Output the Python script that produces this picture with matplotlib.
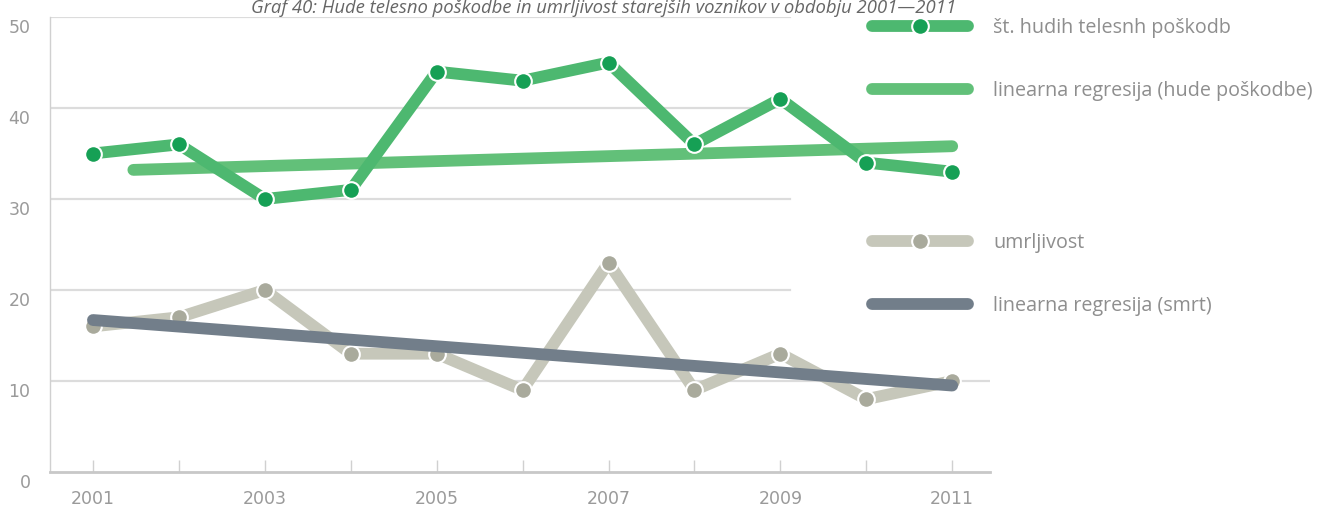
import numpy as np
import matplotlib
matplotlib.use('Agg')
import matplotlib.pyplot as plt
import matplotlib.transforms as mtransforms
from matplotlib.lines import Line2D

# data
years = [2001, 2002, 2003, 2004, 2005, 2006, 2007, 2008, 2009, 2010, 2011]
injuries = [35, 36, 30, 31, 44, 43, 45, 36, 41, 34, 33]
deaths = [16, 17, 20, 13, 13, 9, 23, 9, 13, 8, 10]
inj_reg_x = [2001.47, 2011]
inj_reg_y = [33.2, 35.8]
death_reg_x = [2001, 2011]
death_reg_y = [16.7, 9.5]

yticks = [0, 10, 20, 30, 40, 50]
xticks = [2001, 2003, 2005, 2007, 2009, 2011]

title = 'Graf 40: Hude telesno poškodbe in umrljivost starejših voznikov v obdobju 2001—2011'
labels = ['št. hudih telesnh poškodb', 'linearna regresija (hude poškodbe)',
          'umrljivost', 'linearna regresija (smrt)']

GREEN = '#4db870'
GREEN_DOT = '#16a055'
GREEN_REG = '#62c079'
GREY = '#c6c7ba'
GREY_DOT = '#a9aa9c'
DARK = '#727e8a'
TXT = '#8e8e8e'

plt.rcParams['font.family'] = ['Open Sans', 'DejaVu Sans']

fig = plt.figure(figsize=(13.33, 5.07), dpi=100)
ax = fig.add_axes([50 / 1333, 1 - 472 / 507, 940 / 1333, 455 / 507])
ax.set_xlim(2000.5, 2011.44)
ax.set_ylim(0, 50)

# gridlines (the upper ones are cut off by the legend area)
for v in [20, 30, 40, 50]:
    ax.axhline(v, xmin=0, xmax=0.787, color='#dcdcdc', lw=1.6, zorder=0)
ax.axhline(10, color='#dcdcdc', lw=1.6, zorder=0)

lw = 8.5
ax.plot(years, deaths, color=GREY, lw=lw, solid_capstyle='round', solid_joinstyle='round',
        marker='o', ms=12, mfc=GREY_DOT, mec='white', mew=1.5, zorder=2)
ax.plot(death_reg_x, death_reg_y, color=DARK, lw=lw, solid_capstyle='round', zorder=3)
ax.plot(inj_reg_x, inj_reg_y, color=GREEN_REG, lw=lw, solid_capstyle='round', zorder=4)
ax.plot(years, injuries, color=GREEN, lw=lw, solid_capstyle='round', solid_joinstyle='round',
        marker='o', ms=12, mfc=GREEN_DOT, mec='white', mew=1.5, zorder=5)

for s in ['top', 'right']:
    ax.spines[s].set_visible(False)
ax.spines['left'].set_color('#d0d0d0')
ax.spines['left'].set_linewidth(1.0)
ax.spines['bottom'].set_color('#c8c8c8')
ax.spines['bottom'].set_linewidth(2.0)

ax.set_yticks(yticks)
ax.set_xticks(years)
ax.set_xticklabels([str(y) if y in xticks else '' for y in years])
ax.tick_params(axis='x', direction='in', length=9, width=1, color='#d0d0d0',
               labelsize=12.5, labelcolor='#9a9a9a', pad=13)
ax.tick_params(axis='y', length=0, labelsize=12.5, labelcolor='#9a9a9a', pad=14)
for lab in ax.get_xticklabels() + ax.get_yticklabels():
    lab.set_family(['DejaVu Sans'])
# y labels sit a bit below their gridlines in the original
shift = mtransforms.ScaledTranslation(0, -9 / 100, fig.dpi_scale_trans)
for lab in ax.get_yticklabels():
    lab.set_transform(lab.get_transform() + shift)

fig.text(604 / 1333, 1 - 13 / 507, title, ha='center', va='baseline', style='italic',
         fontsize=13.3, color='#666666')

h1 = Line2D([], [], color=GREEN, lw=lw, solid_capstyle='round', marker='o', ms=12,
            mfc=GREEN_DOT, mec='white', mew=1.5)
h2 = Line2D([], [], color=GREEN_REG, lw=lw, solid_capstyle='round')
h3 = Line2D([], [], color=GREY, lw=lw, solid_capstyle='round', marker='o', ms=12,
            mfc=GREY_DOT, mec='white', mew=1.5)
h4 = Line2D([], [], color=DARK, lw=lw, solid_capstyle='round')

leg_kw = dict(frameon=False, loc='upper left', handlelength=4.85, handletextpad=1.3,
              labelspacing=2.2, fontsize=14.2, labelcolor=TXT, numpoints=1,
              borderaxespad=0, borderpad=0)
leg1 = fig.legend([h1, h2], labels[:2], bbox_to_anchor=(872 / 1333, 1 - 18 / 507), **leg_kw)
leg2 = fig.legend([h3, h4], labels[2:], bbox_to_anchor=(872 / 1333, 1 - 233 / 507), **leg_kw)

fig.savefig('out.png', dpi=100, facecolor='white')
